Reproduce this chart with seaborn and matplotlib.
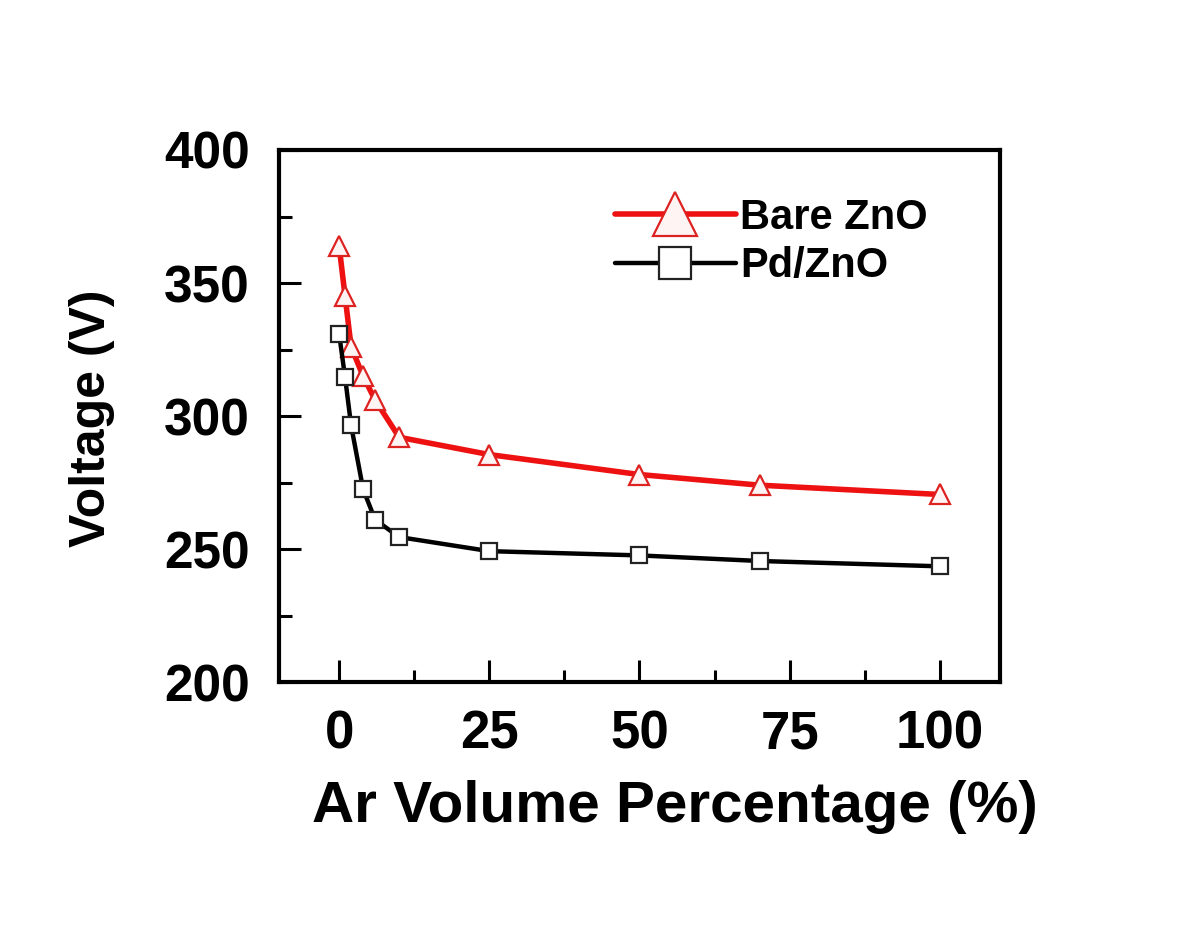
import pandas as pd
import numpy as np
import matplotlib
matplotlib.use('Agg')
import matplotlib.pyplot as plt
import seaborn as sns
from matplotlib.ticker import MultipleLocator

sns.set_style("white")
plt.rcParams['font.family'] = ['Liberation Sans', 'DejaVu Sans']
plt.rcParams['font.weight'] = 'bold'
plt.rcParams['text.color'] = 'black'
plt.rcParams['axes.labelcolor'] = 'black'
plt.rcParams['xtick.color'] = 'black'
plt.rcParams['ytick.color'] = 'black'

# --- data ---
ar_percent = [0, 1, 2, 4, 6, 10, 25, 50, 70, 100]
bare_zno = [364, 345, 326, 315, 306, 292, 285.5, 278, 274, 270.5]
pd_zno = [331, 314.5, 296.5, 272.5, 261, 254.5, 249.2, 247.6, 245.5, 243.5]

df = pd.DataFrame({
    "Ar": ar_percent * 2,
    "Voltage": bare_zno + pd_zno,
    "Sample": ["Bare ZnO"] * len(ar_percent) + ["Pd/ZnO"] * len(ar_percent),
})

fig = plt.figure(figsize=(12, 9.41), dpi=100)
ax = fig.add_axes([0.2325, 0.2752, 0.6008, 0.5654])

sns.lineplot(data=df[df.Sample == "Bare ZnO"], x="Ar", y="Voltage", ax=ax,
             color='#ee1111', linewidth=4, marker='^', markersize=15,
             markerfacecolor='#fff4f4', markeredgecolor='#dd2222', markeredgewidth=1.6,
             label="Bare ZnO")
sns.lineplot(data=df[df.Sample == "Pd/ZnO"], x="Ar", y="Voltage", ax=ax,
             color='black', linewidth=3.2, marker='s', markersize=11,
             markerfacecolor='white', markeredgecolor='#222222', markeredgewidth=1.6,
             label="Pd/ZnO")

ax.set_xlim(-10, 110)
ax.set_ylim(200, 400)
ax.xaxis.set_major_locator(MultipleLocator(25))
ax.xaxis.set_minor_locator(MultipleLocator(12.5))
ax.yaxis.set_major_locator(MultipleLocator(50))
ax.yaxis.set_minor_locator(MultipleLocator(25))
ax.tick_params(which='both', bottom=True, left=True, top=False, right=False, direction='in')
ax.tick_params(which='major', length=16, width=2.2)
ax.tick_params(which='minor', length=9, width=2.2)
ax.tick_params(axis='x', labelsize=38, pad=20)
ax.tick_params(axis='y', labelsize=37, pad=21)
for s in ax.spines.values():
    s.set_linewidth(3)
    s.set_color('black')

ax.set_xlabel("Ar Volume Percentage (%)", fontsize=42, fontweight='bold')
ax.xaxis.set_label_coords(0.549, -0.184)
ax.set_ylabel("Voltage (V)", fontsize=36, fontweight='bold')
ax.yaxis.set_label_coords(-0.228, 0.495)

leg = ax.legend(loc='upper left', bbox_to_anchor=(615 / 1200, 1 - 198 / 941),
                bbox_transform=fig.transFigure, frameon=False, borderpad=0, borderaxespad=0,
                fontsize=30, markerscale=2.1, handlelength=2.9, handletextpad=0.1,
                labelspacing=0.2)

fig.savefig("out.png", dpi=100)
